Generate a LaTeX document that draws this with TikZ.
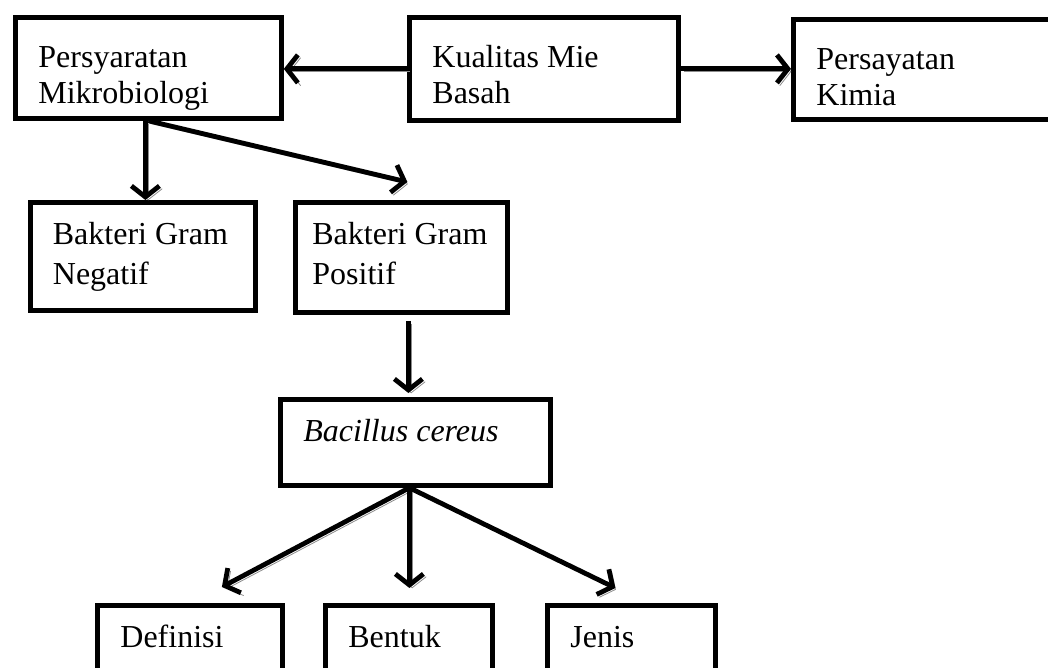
\documentclass[tikz,border=0pt]{standalone}
\usepackage{fontspec}
\setmainfont{Liberation Serif}
\usetikzlibrary{arrows.meta}

\begin{document}
\begin{tikzpicture}[x=0.5pt, y=-0.5pt, >={Straight Barb[length=5.5pt,width=14pt]},
    box/.style={draw, line width=2.4pt, anchor=north west, align=flush left,
        inner xsep=11.5pt, inner ysep=0pt, text height=21pt,
        font=\fontsize{16}{20}\selectfont},
    toprow/.style={text height=25pt, font=\fontsize{16}{18}\selectfont},
    link/.style={->, line width=2.4pt,
        preaction={draw=black!45, transform canvas={shift={(1.4pt,-1.4pt)}}}}]
    \path[use as bounding box, clip] (0,0) rectangle (1048,668);

    % Boxes
    \node (pm)  [box, toprow, text width=110pt,  text depth=25.5pt] at (13,15)  {Persyaratan\\Mikrobiologi};
    \node (kmb) [box, toprow, text width=111.5pt, text depth=26.5pt] at (407,15) {Kualitas Mie\\Basah};
    \node (pk)  [box, toprow, text width=122pt,  text depth=25pt]   at (791,17) {Persayatan\\Kimia};
    \node (bgn) [box, text width=90pt,   text depth=33pt, inner xsep=11.25pt] at (28,200) {Bakteri Gram\\Negatif};
    \node (bgp) [box, text width=89pt,   text depth=34pt, inner xsep=8.5pt]   at (293,200) {Bakteri Gram\\Positif};
    \node (bc)  [box, text width=112pt,  text depth=22pt]   at (278,397) {\textit{Bacillus cereus}};
    \node (def) [box, text width=69.5pt, text depth=29pt]   at (95,603)  {Definisi};
    \node (ben) [box, text width=60.5pt, text depth=29pt]   at (323,603) {Bentuk};
    \node (jen) [box, text width=61pt,   text depth=29pt]   at (545,603) {Jenis};

    % Arrows
    \draw[link] (kmb.west) -- (kmb.west -| pm.east);
    \draw[link] (kmb.east) -- (kmb.east -| pk.west);
    \draw[link] ([shift={(-3,0)}]pm.south) -- ([shift={(-3,0)}]pm.south |- bgn.north);
    \draw[link] (pm.south) -- ([shift={(6,-18)}]bgp.north);
    \draw[link] ([shift={(7,6)}]bgp.south) -- ([shift={(-7,-4)}]bc.north);

    \coordinate (fork) at ([shift={(-6,0)}]bc.south);
    \draw[link] (fork) -- ([shift={(32,-16)}]def.north);
    \draw[link] (fork) -- ([shift={(0,-15)}]fork |- ben.north);
    \draw[link] (fork) -- ([shift={(-16,-15)}]jen.north);

\end{tikzpicture}
\end{document}
